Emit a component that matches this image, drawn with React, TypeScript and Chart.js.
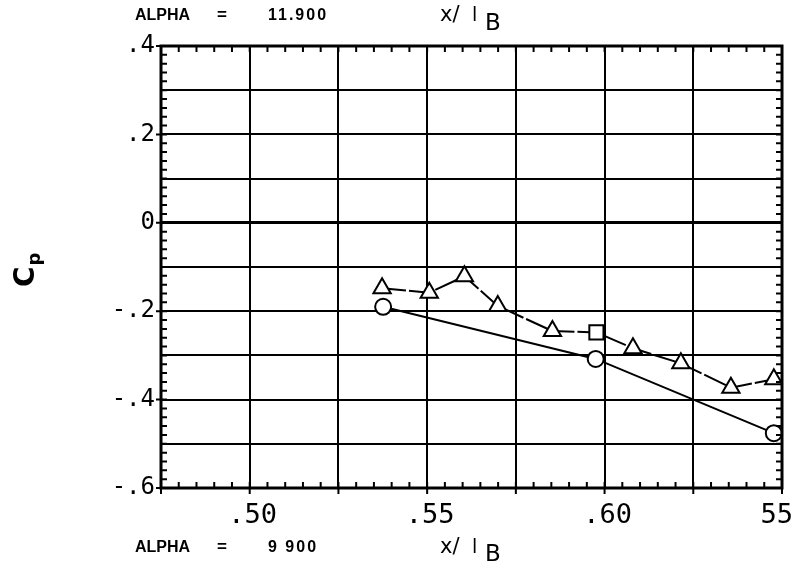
import React, { useEffect, useRef } from 'react';
import { Chart, registerables } from 'chart.js';

Chart.register(...registerables);

// ---- data ----
const triX = [0.5373, 0.5506, 0.5605, 0.5699, 0.5853, 0.5977, 0.608, 0.6215, 0.6356, 0.6477];
const triY = [-0.148, -0.158, -0.121, -0.188, -0.245, -0.248, -0.284, -0.318, -0.373, -0.354];
const circX = [0.5376, 0.5975, 0.6477];
const circY = [-0.19, -0.308, -0.476];

const yTickValues = [0.4, 0.2, 0, -0.2, -0.4, -0.6];
const yTickLabels = ['.4', '.2', '0', '-.2', '-.4', '-.6'];
const xTickValues = [0.5, 0.55, 0.6, 0.65];
const xTickLabels = ['.50', '.55', '.60', '55'];

const topCaption = ['ALPHA', '=', '11.900'];
const bottomCaption = ['ALPHA', '=', '9 900'];
const axisName = ['x/', 'l', 'B'];
const yTitle = ['C', 'p'];

const X_MIN = 0.475;
const X_MAX = 0.65;
const Y_MIN = -0.6;
const Y_MAX = 0.4;

const decorPlugin = {
  id: 'decor',
  afterDraw(chart: any) {
    const ctx: CanvasRenderingContext2D = chart.ctx;
    const { left, right, top, bottom } = chart.chartArea;
    const xs = chart.scales.x;
    const ys = chart.scales.y;
    ctx.save();
    ctx.strokeStyle = '#000';
    ctx.fillStyle = '#000';
    ctx.lineWidth = 2;
    ctx.beginPath();
    const nx = Math.round((X_MAX - X_MIN) / 0.005);
    for (let i = 0; i <= nx; i++) {
      const px = xs.getPixelForValue(X_MIN + i * 0.005);
      ctx.moveTo(px, bottom);
      ctx.lineTo(px, bottom - 6);
      ctx.moveTo(px, top);
      ctx.lineTo(px, top + 6);
      if (i % 5 === 0) {
        ctx.moveTo(px, bottom);
        ctx.lineTo(px, bottom + 6);
      }
    }
    const ny = Math.round((Y_MAX - Y_MIN) / 0.02);
    for (let i = 0; i <= ny; i++) {
      const py = ys.getPixelForValue(Y_MIN + i * 0.02);
      ctx.moveTo(left, py);
      ctx.lineTo(left + 6, py);
      ctx.moveTo(right, py);
      ctx.lineTo(right - 6, py);
      if (i % 10 === 0) {
        ctx.moveTo(left, py);
        ctx.lineTo(left - 5, py);
      }
    }
    ctx.stroke();
    ctx.lineWidth = 3;
    ctx.strokeRect(left, top, right - left, bottom - top);

    // x tick labels
    ctx.font = '27px "DejaVu Sans Mono"';
    ctx.textAlign = 'center';
    ctx.textBaseline = 'alphabetic';
    xTickValues.forEach((v, i) => {
      const w = ctx.measureText(xTickLabels[i]).width;
      let px = xs.getPixelForValue(v) + 3;
      px = Math.min(px, chart.width - w / 2 - 1);
      ctx.fillText(xTickLabels[i], px, bottom + 35);
    });

    // y title (rotated)
    ctx.save();
    ctx.translate(34, 287);
    ctx.rotate(-Math.PI / 2);
    ctx.textAlign = 'left';
    ctx.font = 'bold 28px "DejaVu Sans"';
    ctx.fillText(yTitle[0], 0, 0);
    const cw = ctx.measureText(yTitle[0]).width;
    ctx.font = 'bold 18px "DejaVu Sans"';
    ctx.fillText(yTitle[1], cw + 1, 6);
    ctx.restore();

    // captions
    const drawCaption = (cap: string[], base: number, subDrop: number) => {
      ctx.textAlign = 'left';
      ctx.font = 'bold 16px "Liberation Sans"';
      (ctx as any).letterSpacing = '0px';
      ctx.fillText(cap[0], 135, base);
      ctx.font = 'bold 17px "Liberation Sans"';
      ctx.fillText(cap[1], 217, base);
      (ctx as any).letterSpacing = '2px';
      ctx.font = 'bold 16px "Liberation Sans"';
      ctx.fillText(cap[2], 268, base);
      (ctx as any).letterSpacing = '0px';
      ctx.font = '21px "DejaVu Sans"';
      ctx.fillText(axisName[0], 440, base + 1);
      ctx.font = '19px "DejaVu Sans"';
      ctx.fillText(axisName[1], 472, base + 1);
      ctx.font = '23px "DejaVu Sans"';
      ctx.fillText(axisName[2], 485, base + subDrop);
    };
    drawCaption(topCaption, 20, 10);
    drawCaption(bottomCaption, 552, 9);
    ctx.restore();
  },
};

export default function App() {
  const ref = useRef<HTMLCanvasElement | null>(null);
  useEffect(() => {
    if (!ref.current) return;
    const chart = new Chart(ref.current, {
      type: 'scatter',
      data: {
        datasets: [
          {
            data: triX.map((x, i) => ({ x, y: triY[i] })),
            showLine: true,
            borderColor: '#000',
            borderWidth: 2,
            borderDash: [24, 3],
            pointStyle: (c: any) => (c.dataIndex === 5 ? 'rect' : 'triangle'),
            pointRadius: 10,
            pointBackgroundColor: '#fff',
            pointBorderColor: '#000',
            pointBorderWidth: 2,
          },
          {
            data: circX.map((x, i) => ({ x, y: circY[i] })),
            showLine: true,
            borderColor: '#000',
            borderWidth: 2,
            pointStyle: 'circle',
            pointRadius: 8,
            pointBackgroundColor: '#fff',
            pointBorderColor: '#000',
            pointBorderWidth: 2,
          },
        ],
      } as any,
      options: {
        animation: false,
        responsive: false,
        maintainAspectRatio: false,
        layout: { padding: { left: 0, top: 46, right: 9, bottom: 74 } },
        plugins: { legend: { display: false }, tooltip: { enabled: false } },
        scales: {
          x: {
            type: 'linear',
            min: X_MIN,
            max: X_MAX,
            afterFit: (s: any) => { s.height = 0; },
            ticks: { display: false, stepSize: 0.025, autoSkip: false },
            grid: { color: '#000', lineWidth: 2, drawTicks: false },
            border: { display: false },
          },
          y: {
            type: 'linear',
            min: Y_MIN,
            max: Y_MAX,
            afterFit: (s: any) => { s.width = 161; },
            ticks: {
              stepSize: 0.1,
              autoSkip: false,
              padding: 6,
              color: '#000',
              font: { family: 'DejaVu Sans Mono', size: 24 },
              callback: (v: any) => {
                const i = yTickValues.findIndex((t) => Math.abs(t - Number(v)) < 1e-6);
                return i >= 0 ? yTickLabels[i] : '';
              },
            },
            grid: {
              color: '#000',
              lineWidth: (c: any) => (c.tick && Math.abs(c.tick.value) < 1e-6 ? 3 : 2),
              drawTicks: false,
            },
            border: { display: false },
          },
        },
      } as any,
      plugins: [decorPlugin],
    });
    return () => chart.destroy();
  }, []);
  return (
    <div style={{ position: 'absolute', left: 0, top: 0, width: 794, height: 562, background: '#fff' }}>
      <canvas ref={ref} width={794} height={562} style={{ display: 'block' }} />
    </div>
  );
}
